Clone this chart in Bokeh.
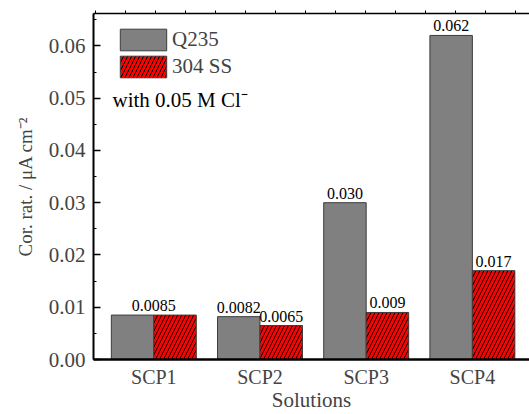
import numpy as np
from bokeh.plotting import figure
from bokeh.models import (Range1d, LinearAxis, FixedTicker, SingleIntervalTicker,
                          NumeralTickFormatter, Legend, LegendItem, Label)
from bokeh.core.properties import value
from bokeh.embed import file_html
from bokeh.resources import INLINE

# Corrosion rate of the two steels in each simulated concrete pore solution
solutions = ["SCP1", "SCP2", "SCP3", "SCP4"]
q235 = [0.0085, 0.0082, 0.030, 0.062]
ss304 = [0.0085, 0.0065, 0.009, 0.017]
q235_labels = ["0.0085", "0.0082", "0.030", "0.062"]
ss304_labels = ["", "0.0065", "0.009", "0.017"]

FONT = "Liberation Serif"
BAR_W = 0.4

idx = np.arange(1, len(solutions) + 1)
x_q = idx - BAR_W / 2
x_s = idx + BAR_W / 2

p = figure(width=529, height=414,
           x_range=Range1d(0.432, 4.538), y_range=Range1d(0, 0.0662),
           output_backend="svg", toolbar_location=None,
           min_border_left=93, min_border_right=0,
           min_border_top=13, min_border_bottom=55)
p.outline_line_color = None
p.xgrid.visible = False
p.ygrid.visible = False
p.background_fill_color = "white"
p.border_fill_color = "white"

q_r = p.vbar(x=x_q, top=q235, width=BAR_W, fill_color="#808080",
             line_color="#3c3c3c", line_width=1)
s_r = p.vbar(x=x_s, top=ss304, width=BAR_W, fill_color="#ff0000",
             line_color="#3c3c3c", line_width=1,
             hatch_pattern="/", hatch_color="black", hatch_scale=8, hatch_weight=1)

# value labels; when both bars are equal a single label sits over the pair
q_lab_x = np.where(np.isclose(q235, ss304), idx, x_q)
for xs, ys, labels in ((q_lab_x, q235, q235_labels), (x_s, ss304, ss304_labels)):
    p.text(x=xs, y=ys, text=labels, text_font=value(FONT),
           text_font_size="16px", text_align="center", text_baseline="bottom",
           y_offset=-4, text_color="black")

# bottom axis
xa = p.xaxis[0]
xa.ticker = FixedTicker(ticks=list(idx))
xa.major_label_overrides = {int(i): s for i, s in zip(idx, solutions)}
xa.major_tick_line_color = None
xa.minor_tick_line_color = None
xa.axis_line_width = 2.5
xa.major_label_text_font = FONT
xa.major_label_text_font_size = "20px"
xa.major_label_standoff = 0
xa.axis_label = "Solutions"
xa.axis_label_text_font = FONT
xa.axis_label_text_font_size = "21px"
xa.axis_label_text_font_style = "normal"
xa.axis_label_standoff = -3

# left axis
ya = p.yaxis[0]
ya.ticker = SingleIntervalTicker(interval=0.01, num_minor_ticks=2)
ya.formatter = NumeralTickFormatter(format="0.00")
ya.major_tick_in = 7
ya.major_tick_out = 0
ya.minor_tick_in = 3
ya.minor_tick_out = 0
ya.major_tick_line_width = 1.5
ya.axis_line_width = 2
ya.major_label_text_font = FONT
ya.major_label_text_font_size = "21px"
ya.major_label_standoff = 8
ya.axis_label = "Cor. rat. / \u03bcA cm\u207b\u00b2"
ya.axis_label_text_font = FONT
ya.axis_label_text_font_size = "19px"
ya.axis_label_text_font_style = "normal"
ya.axis_label_standoff = 10

# top frame line with small minor ticks
top = LinearAxis(ticker=FixedTicker(ticks=[], minor_ticks=list(np.arange(0.451, 4.54, 0.2825))),
                 major_label_text_font_size="0px", axis_line_width=1.5,
                 minor_tick_out=3, minor_tick_in=0, major_tick_out=0)
p.add_layout(top, "above")

legend = Legend(items=[LegendItem(label="Q235", renderers=[q_r]),
                       LegendItem(label="304 SS", renderers=[s_r])],
                location=(21, 279), padding=0, spacing=0,
                glyph_width=58, glyph_height=27, label_height=22,
                label_standoff=0, label_text_font=FONT,
                label_text_font_size="21px",
                border_line_color=None, background_fill_alpha=0)
p.add_layout(legend)

p.add_layout(Label(x=0.611, y=0.0496, text="with 0.05 M Cl\u207b",
                   text_font=FONT, text_font_size="21px",
                   text_baseline="alphabetic", text_color="black"))

open("out.html", "w").write(file_html(p, INLINE))
